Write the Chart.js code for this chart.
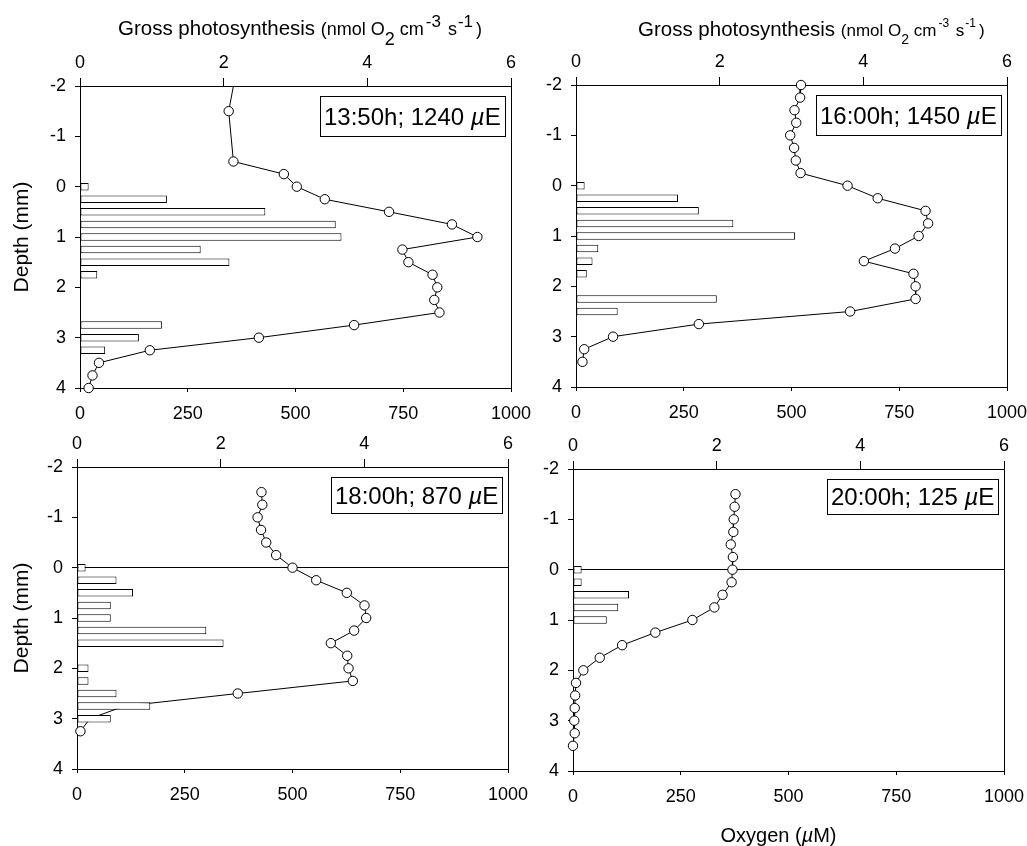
<!DOCTYPE html>
<html>
<head>
<meta charset="utf-8">
<title>O2 and gross photosynthesis depth profiles</title>
<script src="https://cdn.jsdelivr.net/npm/chart.js@4.4.1/dist/chart.umd.min.js"></script>
<style>
  body { margin: 0; background: #fff; }
  #fig { position: relative; width: 1027px; height: 846px; }
  #fig canvas { position: absolute; }
</style>
</head>
<body>
<div id="fig">
  <canvas id="p1" width="540" height="425" style="left:0;top:0"></canvas>
  <canvas id="p2" width="531" height="425" style="left:496px;top:0"></canvas>
  <canvas id="p3" width="540" height="421" style="left:0;top:425px"></canvas>
  <canvas id="p4" width="531" height="421" style="left:496px;top:425px"></canvas>
</div>
<script>
// ---- values ----
// oxygen profiles: depth (mm) and O2 (uM)
const o2Depth1350 = [-2.5, -1.5, -0.5, -0.25, 0, 0.25, 0.5, 0.75, 1, 1.25, 1.5, 1.75, 2, 2.25, 2.5, 2.75, 3, 3.25, 3.5, 3.75, 4];
const o2Conc1350  = [367, 345, 356, 473, 503, 568, 717, 863, 922, 748, 762, 818, 829, 822, 834, 636, 415, 162, 44, 29, 20];

const o2Depth1600 = [-2, -1.75, -1.5, -1.25, -1, -0.75, -0.5, -0.25, 0, 0.25, 0.5, 0.75, 1, 1.25, 1.5, 1.75, 2, 2.25, 2.5, 2.75, 3, 3.25, 3.5];
const o2Conc1600  = [522, 520, 507, 511, 497, 506, 510, 521, 630, 700, 811, 817, 795, 740, 668, 783, 788, 788, 636, 285, 86, 19, 15];

const o2Depth1800 = [-1.5, -1.25, -1, -0.75, -0.5, -0.25, 0, 0.25, 0.5, 0.75, 1, 1.25, 1.5, 1.75, 2, 2.25, 2.5, 2.75, 3, 3.25];
const o2Conc1800  = [428, 430, 419, 427, 439, 462, 500, 555, 626, 667, 671, 643, 589, 627, 630, 640, 373, 110, 30, 8];
const o2Covered1800 = [2.75, 3];   // these two points sit behind the bars in the original

const o2Depth2000 = [-1.5, -1.25, -1, -0.75, -0.5, -0.25, 0, 0.25, 0.5, 0.75, 1, 1.25, 1.5, 1.75, 2, 2.25, 2.5, 2.75, 3, 3.25, 3.5];
const o2Conc2000  = [377, 375, 373, 372, 366, 371, 370, 368, 347, 328, 277, 191, 114, 62, 24, 7, 5, 4, 3, 4, 0];

// gross photosynthesis: depth (mm) and rate (nmol O2 cm-3 s-1)
const gpDepth1350 = [0, 0.25, 0.5, 0.75, 1, 1.25, 1.5, 1.75, 2.75, 3, 3.25];
const gpRate1350  = [0.12, 1.21, 2.58, 3.56, 3.64, 1.68, 2.08, 0.24, 1.14, 0.82, 0.35];

const gpDepth1600 = [0, 0.25, 0.5, 0.75, 1, 1.25, 1.5, 1.75, 2.25, 2.5];
const gpRate1600  = [0.12, 1.42, 1.71, 2.19, 3.05, 0.31, 0.23, 0.15, 1.96, 0.58];

const gpDepth1800 = [0, 0.25, 0.5, 0.75, 1, 1.25, 1.5, 2, 2.25, 2.5, 2.75, 3];
const gpRate1800  = [0.12, 0.55, 0.78, 0.47, 0.47, 1.80, 2.04, 0.16, 0.16, 0.55, 1.02, 0.47];

const gpDepth2000 = [0, 0.25, 0.5, 0.75, 1];
const gpRate2000  = [0.12, 0.12, 0.78, 0.63, 0.47];

// panel captions and axis text
const panelLabels = ['13:50h; 1240', '16:00h; 1450', '18:00h; 870', '20:00h; 125'];
const lightUnit = 'E';          // preceded by an italic mu
const depthTitle = 'Depth (mm)';
const o2Ticks = [0, 250, 500, 750, 1000];
const gpTicks = [0, 2, 4, 6];
const depthTicks = [-2, -1, 0, 1, 2, 3, 4];

// ---- drawing ----
const FONT = '"Liberation Sans", Arial, Helvetica, sans-serif';
Chart.defaults.font.family = FONT;
Chart.defaults.font.size = 18;
Chart.defaults.color = '#000';

function setFont(ctx, p) {
    ctx.font = (p.italic ? 'italic ' : '') + p.size + 'px ' + FONT;
}

// draws a run of text pieces (for sub/superscripts and the italic mu)
function drawRuns(ctx, x, y, parts, measureOnly) {
    for (const p of parts) {
        setFont(ctx, p);
        if (!measureOnly) ctx.fillText(p.text, x, y + (p.dy || 0));
        x += ctx.measureText(p.text).width + (p.gap || 0);
    }
    return x;
}

function gpTitle(big) {
    // the two top panels use different sizes for the units
    const unit = big ? 18 : 17, sub = big ? 18 : 14, sup = big ? 17 : 12;
    return [
        { text: 'Gross photosynthesis ', size: 20.5 },
        { text: '(nmol O', size: unit },
        { text: '2', size: sub, dy: big ? 10 : 8 },
        { text: ' cm', size: unit, gap: 2 },
        { text: '-3', size: sup, dy: big ? -8 : -9, gap: 2 },
        { text: ' s', size: unit, gap: 1 },
        { text: '-1', size: sup, dy: big ? -8 : -9, gap: 3 },
        { text: ')', size: unit }
    ];
}

const decoPlugin = {
    id: 'deco',
    beforeDatasetsDraw(chart) {
        const a = chart.chartArea, ctx = chart.ctx;
        ctx.save();
        ctx.strokeStyle = '#000';
        ctx.lineWidth = 1;
        ctx.strokeRect(Math.round(a.left) + 0.5, Math.round(a.top) + 0.5,
                       Math.round(a.right - a.left), Math.round(a.bottom - a.top));
        ctx.restore();
    },
    afterDraw(chart, args, o) {
        const a = chart.chartArea, ctx = chart.ctx;
        ctx.save();
        ctx.textBaseline = 'alphabetic';
        ctx.textAlign = 'left';
        ctx.lineWidth = 1;
        ctx.strokeStyle = '#000';

        // caption box in the upper right corner
        const parts = [
            { text: o.label + ' ', size: 24 },
            { text: '\u00b5', size: 24, italic: true },
            { text: lightUnit, size: 24 }
        ];
        const w = Math.round(drawRuns(ctx, 0, 0, parts, true)) + 8;
        const h = o.boxH;
        const right = Math.round(a.right) - 6, top = Math.round(a.top) + 10;
        ctx.fillStyle = '#fff';
        ctx.fillRect(right - w, top, w, h);
        ctx.strokeRect(right - w + 0.5, top + 0.5, w, h);
        ctx.fillStyle = '#000';
        drawRuns(ctx, right - w + 4, top + h / 2 + 8.5, parts);

        if (o.topTitle) {
            drawRuns(ctx, a.left + o.topTitle.dx, a.top - o.topTitle.dy, gpTitle(o.topTitle.big));
        }
        if (o.bottomTitle) {
            const xp = [
                { text: 'Oxygen (', size: 20 },
                { text: '\u00b5', size: 20, italic: true },
                { text: 'M)', size: 20 }
            ];
            const tw = drawRuns(ctx, 0, 0, xp, true);
            drawRuns(ctx, (a.left + a.right) / 2 - 10 - tw / 2, a.bottom + 71, xp);
        }
        ctx.restore();
    }
};

function profileChart(id, o) {
    const box = o.box;
    const covered = o.covered || [];
    return new Chart(document.getElementById(id), {
        type: 'bar',
        data: {
            datasets: [{
                type: 'bar',
                indexAxis: 'y',
                label: 'Gross photosynthesis',
                data: o.gpDepth.map((d, i) => ({ x: o.gpRate[i], y: d })),
                xAxisID: 'xp',
                yAxisID: 'y',
                order: 0,
                backgroundColor: '#fff',
                borderColor: '#000',
                borderWidth: 1,
                borderSkipped: false,
                barPercentage: 0.6,
                categoryPercentage: 1
            }, {
                type: 'line',
                indexAxis: 'y',
                label: 'Oxygen',
                data: o.o2Depth.map((d, i) => ({ x: o.o2Conc[i], y: d })),
                xAxisID: 'x',
                yAxisID: 'y',
                order: 1,
                borderColor: '#000',
                borderWidth: 1,
                tension: 0,
                pointRadius: c => (c.raw && covered.includes(c.raw.y)) ? 0 : 4.7,
                pointBackgroundColor: '#fff',
                pointBorderColor: '#000',
                pointBorderWidth: 1,
                clip: o.clip || { left: 6, right: 6, top: 6, bottom: 6 }
            }]
        },
        options: {
            responsive: false,
            animation: false,
            events: [],
            indexAxis: 'y',
            layout: { padding: { left: 0, top: 0, bottom: 0, right: box.right } },
            plugins: {
                legend: { display: false },
                tooltip: { enabled: false },
                deco: { label: o.label, boxH: o.boxH, topTitle: o.topTitle, bottomTitle: o.bottomTitle }
            },
            scales: {
                y: {
                    type: 'linear',
                    position: 'left',
                    reverse: true,
                    min: depthTicks[0],
                    max: depthTicks[depthTicks.length - 1],
                    offset: false,
                    afterBuildTicks: s => { s.ticks = depthTicks.map(v => ({ value: v })); },
                    ticks: { padding: 9, callback: v => String(v) },
                    grid: {
                        offset: false,
                        drawOnChartArea: !!o.zeroLine,
                        color: c => (c.tick && c.tick.value === 0) ? '#000' : 'rgba(0,0,0,0)',
                        tickColor: '#000',
                        tickLength: 5,
                        lineWidth: 1
                    },
                    border: { display: false },
                    title: { display: !!o.yTitle, text: depthTitle, font: { size: 21 }, padding: { top: 10, bottom: 0 } },
                    afterFit: s => { s.width = box.left; s.paddingTop = 0; s.paddingBottom = 0; }
                },
                x: {
                    type: 'linear',
                    position: 'bottom',
                    min: o2Ticks[0],
                    max: o2Ticks[o2Ticks.length - 1],
                    afterBuildTicks: s => { s.ticks = o2Ticks.map(v => ({ value: v })); },
                    ticks: { padding: 11, maxRotation: 0, autoSkip: false, callback: v => String(v) },
                    grid: { drawOnChartArea: false, tickColor: '#000', tickLength: 4 },
                    border: { display: false },
                    afterFit: s => { s.height = box.bottom; s.paddingLeft = 0; s.paddingRight = 0; }
                },
                xp: {
                    type: 'linear',
                    position: 'top',
                    min: gpTicks[0],
                    max: gpTicks[gpTicks.length - 1],
                    afterBuildTicks: s => { s.ticks = gpTicks.map(v => ({ value: v })); },
                    ticks: { padding: 4, maxRotation: 0, autoSkip: false, callback: v => String(v) },
                    grid: { drawOnChartArea: false, tickColor: '#000', tickLength: 8 },
                    border: { display: false },
                    afterFit: s => { s.height = box.top; s.paddingLeft = 0; s.paddingRight = 0; }
                }
            }
        },
        plugins: [decoPlugin]
    });
}

// Panel 1: 13:50h (the first reading lies above the plotted range, so no top overflow)
profileChart('p1', {
    o2Depth: o2Depth1350, o2Conc: o2Conc1350, gpDepth: gpDepth1350, gpRate: gpRate1350,
    label: panelLabels[0], boxH: 40, yTitle: true, topTitle: { dx: 38, dy: 51, big: true },
    clip: { left: 6, right: 6, top: 0, bottom: 6 },
    box: { left: 80, top: 86, bottom: 37, right: 29 }
});

// Panel 2: 16:00h
profileChart('p2', {
    o2Depth: o2Depth1600, o2Conc: o2Conc1600, gpDepth: gpDepth1600, gpRate: gpRate1600,
    label: panelLabels[1], boxH: 40, topTitle: { dx: 62, dy: 49, big: false },
    box: { left: 80, top: 85, bottom: 38, right: 20 }
});

// Panel 3: 18:00h
profileChart('p3', {
    o2Depth: o2Depth1800, o2Conc: o2Conc1800, gpDepth: gpDepth1800, gpRate: gpRate1800,
    covered: o2Covered1800,
    label: panelLabels[2], boxH: 36, yTitle: true, zeroLine: true,
    box: { left: 77, top: 42, bottom: 77, right: 32 }
});

// Panel 4: 20:00h
profileChart('p4', {
    o2Depth: o2Depth2000, o2Conc: o2Conc2000, gpDepth: gpDepth2000, gpRate: gpRate2000,
    label: panelLabels[3], boxH: 35, zeroLine: true, bottomTitle: true,
    box: { left: 77, top: 44, bottom: 75, right: 23 }
});
</script>
</body>
</html>
